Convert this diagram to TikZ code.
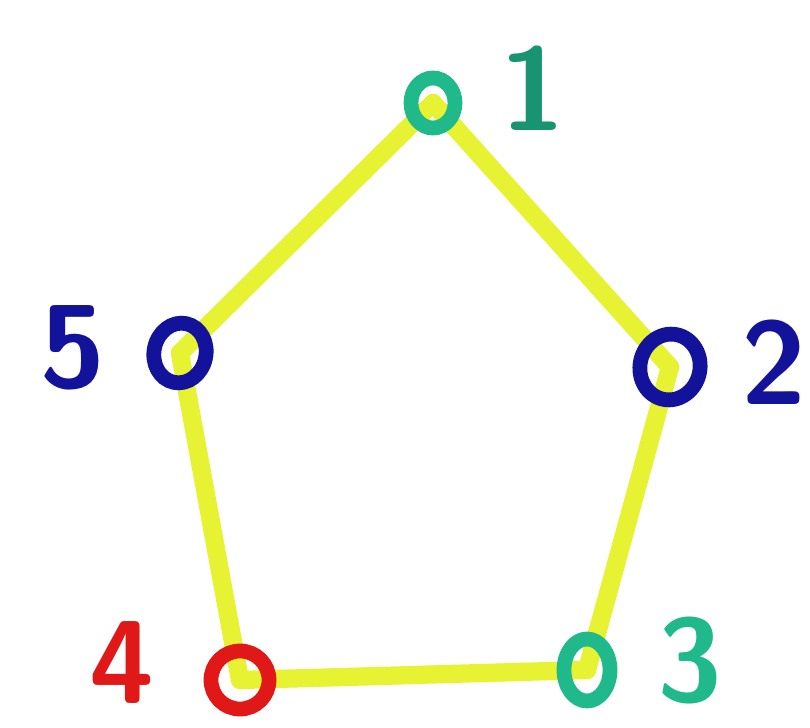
\documentclass[tikz,border=0pt]{standalone}
\usepackage{tikz}
\usetikzlibrary{shapes.geometric}

\definecolor{edgeyellow}{HTML}{E6F232}
\definecolor{tealv}{HTML}{1FB98C}
\definecolor{bluev}{HTML}{12129A}
\definecolor{redv}{HTML}{E01818}

\tikzset{
	edge/.style={line width=13pt, edgeyellow, line cap=round},
	vertex/.style={ellipse, line width=10.5pt, inner sep=0pt},
	numlabel/.style={inner sep=0pt, font=\fontsize{84}{84}\sffamily\bfseries\selectfont}
}

\begin{document}
\begin{tikzpicture}[x=0.025cm, y=-0.025cm]
		% Frame of the picture
		\useasboundingbox (0,0) rectangle (810,728);
		
		% Corners of the pentagon
		\coordinate (c1) at (433,103);
		\coordinate (c2) at (670,367);
		\coordinate (c3) at (587,670);
		\coordinate (c4) at (240,680);
		\coordinate (c5) at (180,353);
		
		% Yellow sides
		\draw[edge] (c1) -- (c2);
		\draw[edge] (c2) -- (c3);
		\draw[edge] (c3) -- (c4);
		\draw[edge] (c4) -- (c5);
		\draw[edge] (c5) -- (c1);
		
		% Vertices
		\node[vertex, draw=tealv, minimum width=1.1cm, minimum height=1.25cm] (v1) at (c1) {};
		\node[vertex, draw=bluev, minimum width=1.5cm, minimum height=1.65cm, rotate=-12] (v2) at (c2) {};
		\node[vertex, draw=tealv, minimum width=1.15cm, minimum height=1.55cm] (v3) at (c3) {};
		\node[vertex, draw=redv, minimum width=1.45cm, minimum height=1.45cm] (v4) at (c4) {};
		\node[vertex, draw=bluev, minimum width=1.3cm, minimum height=1.5cm, rotate=-12] (v5) at (c5) {};
		
		% Numbers
		\node[numlabel, text=tealv!80!black] (l1) at (533,88) {1};
		\node[numlabel, text=bluev] (l2) at (774,362) {2};
		\node[numlabel, text=tealv] (l3) at (690,661) {3};
		\node[numlabel, text=redv] (l4) at (122,663) {4};
		\node[numlabel, text=bluev] (l5) at (73,348) {5};
	\end{tikzpicture}
\end{document}
